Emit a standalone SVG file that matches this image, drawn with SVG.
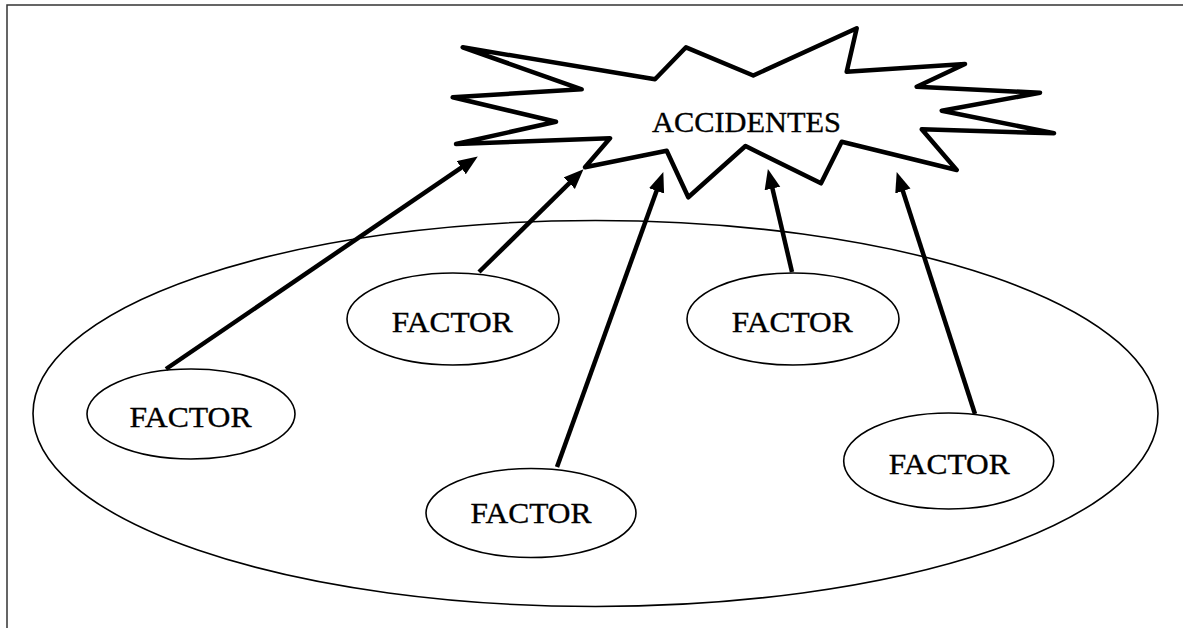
<svg xmlns="http://www.w3.org/2000/svg" width="1183" height="628" viewBox="0 0 1183 628">
  <style>
    .frame { fill: none; stroke: #333; stroke-width: 1.5; }
    .outer { fill: none; stroke: #000; stroke-width: 1.6; }
    .node ellipse { fill: #fff; stroke: #000; stroke-width: 1.6; }
    .label { font-family: "Liberation Serif", "Times New Roman", serif; font-size: 30px; fill: #000; stroke: #000; stroke-width: 0.35; text-anchor: middle; }
    .burst { fill: #fff; stroke: #000; stroke-width: 4.5; stroke-linejoin: round; stroke-linecap: round; }
    .arrow { stroke: #000; stroke-width: 4.5; fill: none; marker-end: url(#head); }
  </style>
  <defs>
    <marker id="head" markerUnits="userSpaceOnUse" markerWidth="22" markerHeight="18" refX="9" refY="8" orient="auto">
      <path d="M0,0 L20,8 L0,16 Z" fill="#000"/>
    </marker>
  </defs>

  <rect width="1183" height="628" fill="#fff"/>

  <!-- page frame: top and left edges -->
  <path class="frame" d="M7,628 L7,5 L1183,5"/>

  <!-- enclosing field of factors -->
  <ellipse id="field" class="outer" cx="595.5" cy="413.5" rx="562.5" ry="193"/>

  <!-- factor nodes -->
  <g id="factor-1" class="node">
    <ellipse cx="191" cy="414" rx="104" ry="45"/>
    <text class="label" x="190.5" y="426.7" textLength="122" lengthAdjust="spacingAndGlyphs">FACTOR</text>
  </g>
  <g id="factor-2" class="node">
    <ellipse cx="453" cy="319" rx="106" ry="46"/>
    <text class="label" x="452.2" y="331.7" textLength="121" lengthAdjust="spacingAndGlyphs">FACTOR</text>
  </g>
  <g id="factor-3" class="node">
    <ellipse cx="531" cy="513" rx="105" ry="44.5"/>
    <text class="label" x="530.9" y="523.3" textLength="121" lengthAdjust="spacingAndGlyphs">FACTOR</text>
  </g>
  <g id="factor-4" class="node">
    <ellipse cx="793" cy="319" rx="106" ry="46"/>
    <text class="label" x="792.2" y="331.7" textLength="121" lengthAdjust="spacingAndGlyphs">FACTOR</text>
  </g>
  <g id="factor-5" class="node">
    <ellipse cx="948.7" cy="461" rx="105" ry="48"/>
    <text class="label" x="949.2" y="474" textLength="121" lengthAdjust="spacingAndGlyphs">FACTOR</text>
  </g>

  <!-- connectors: each factor points to the accidents burst -->
  <g id="connectors">
    <line class="arrow" x1="166" y1="369" x2="468.7" y2="162.6"/>
    <line class="arrow" x1="479" y1="272" x2="575.7" y2="176.9"/>
    <line class="arrow" x1="557" y1="467" x2="659.6" y2="182.4"/>
    <line class="arrow" x1="792" y1="272" x2="770.4" y2="179.7"/>
    <line class="arrow" x1="975" y1="414" x2="900.1" y2="182.5"/>
  </g>

  <!-- accidents burst -->
  <g id="accidentes">
    <polygon class="burst" points="462.7,47.3 655,79.3 686,47.3 753.3,75.5 856.7,28.3 846.7,71.7 965,64 916.7,86.7 1040,92.7 941.7,110.7 1054,133.3 921.7,129.3 956.7,170 841.7,141.7 821,183.3 745.5,146 688.3,197.3 666.7,150.7 585,167.3 610,138.3 456,144 556,121.7 452.7,97.3 581.7,89.3"/>
    <text class="label" x="746.5" y="131.5" textLength="189" lengthAdjust="spacingAndGlyphs">ACCIDENTES</text>
  </g>
</svg>
